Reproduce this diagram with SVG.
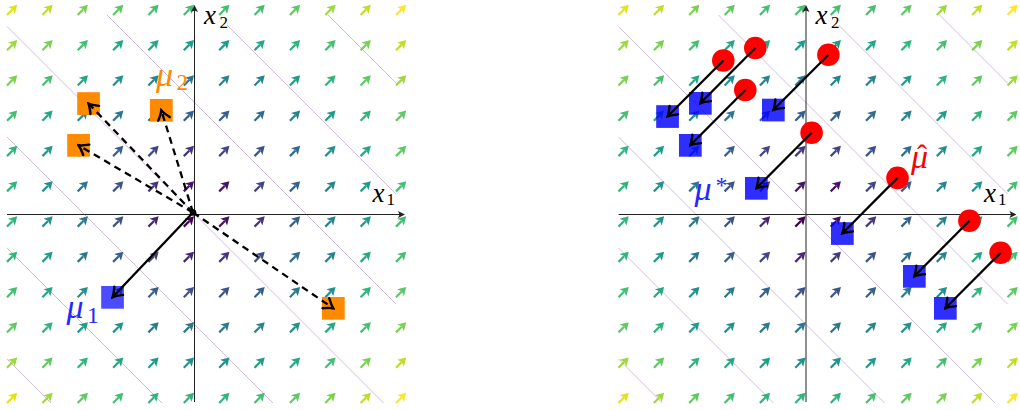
<svg xmlns="http://www.w3.org/2000/svg" width="1020" height="410" viewBox="0 0 1020 410">
<style>
.k0{color:#440154}.k1{color:#471365}.k2{color:#482475}.k3{color:#463480}.k4{color:#414487}.k5{color:#3b528b}.k6{color:#355f8d}.k7{color:#2f6c8e}.k8{color:#2a788e}.k9{color:#25848e}.k10{color:#21918c}.k11{color:#1e9c89}.k12{color:#22a884}.k13{color:#2fb47c}.k14{color:#44bf70}.k15{color:#5ec962}.k16{color:#7ad151}.k17{color:#9bd93c}.k18{color:#bddf26}.k19{color:#dfe318}.k20{color:#fde725}
.ct{stroke:#d2bddb;stroke-width:1;fill:none}
.ax{stroke:#222;stroke-width:1;fill:none}
.axh{fill:#222}
.up{font-style:normal}
.con{fill:none;stroke:#000;stroke-width:2.3}
.dash{stroke-dasharray:7 5}
</style>
<defs>
<marker id="hd" viewBox="-11 -8 13 16" refX="0" refY="0" markerWidth="13" markerHeight="16" markerUnits="userSpaceOnUse" orient="auto"><path d="M-9 -6Q-3.5 -1.5 0 0Q-3.5 1.5 -9 6" fill="none" stroke="#000" stroke-width="2.4" stroke-linecap="round"/></marker>
<g id="a" transform="rotate(-45)"><path d="M0 0H8" stroke="currentColor" stroke-width="2.2"/><path d="M14.5 0L6.3 -4.8L8.2 0L6.3 4.8Z" fill="currentColor"/></g>
<g id="bg">
<g class="ct">
<path d="M328 15L396 83"/><path d="M227 25L396 194"/><path d="M107 15L396 304"/><path d="M7 26.5L383.5 403"/><path d="M7 137L273 403"/><path d="M7 248L162 403"/><path d="M7 359L51 403"/>
</g>
<g transform="translate(0,15)"><use href="#a" x="7" class="k19"/><use href="#a" x="42.4" class="k18"/><use href="#a" x="77.7" class="k16"/><use href="#a" x="113.1" class="k15"/><use href="#a" x="148.4" class="k14"/><use href="#a" x="183.8" class="k14"/><use href="#a" x="219.2" class="k14"/><use href="#a" x="254.5" class="k14"/><use href="#a" x="289.9" class="k15"/><use href="#a" x="325.3" class="k17"/><use href="#a" x="360.6" class="k18"/><use href="#a" x="396" class="k20"/></g>
<g transform="translate(0,50.3)"><use href="#a" x="7" class="k17"/><use href="#a" x="42.4" class="k16"/><use href="#a" x="77.7" class="k14"/><use href="#a" x="113.1" class="k12"/><use href="#a" x="148.4" class="k12"/><use href="#a" x="183.8" class="k11"/><use href="#a" x="219.2" class="k11"/><use href="#a" x="254.5" class="k12"/><use href="#a" x="289.9" class="k13"/><use href="#a" x="325.3" class="k14"/><use href="#a" x="360.6" class="k16"/><use href="#a" x="396" class="k18"/></g>
<g transform="translate(0,85.5)"><use href="#a" x="7" class="k16"/><use href="#a" x="42.4" class="k14"/><use href="#a" x="77.7" class="k12"/><use href="#a" x="113.1" class="k10"/><use href="#a" x="148.4" class="k9"/><use href="#a" x="183.8" class="k8"/><use href="#a" x="219.2" class="k9"/><use href="#a" x="254.5" class="k9"/><use href="#a" x="289.9" class="k11"/><use href="#a" x="325.3" class="k13"/><use href="#a" x="360.6" class="k15"/><use href="#a" x="396" class="k17"/></g>
<g transform="translate(0,120.8)"><use href="#a" x="7" class="k14"/><use href="#a" x="42.4" class="k12"/><use href="#a" x="77.7" class="k10"/><use href="#a" x="113.1" class="k8"/><use href="#a" x="148.4" class="k7"/><use href="#a" x="183.8" class="k6"/><use href="#a" x="219.2" class="k6"/><use href="#a" x="254.5" class="k7"/><use href="#a" x="289.9" class="k9"/><use href="#a" x="325.3" class="k11"/><use href="#a" x="360.6" class="k13"/><use href="#a" x="396" class="k15"/></g>
<g transform="translate(0,156.1)"><use href="#a" x="7" class="k13"/><use href="#a" x="42.4" class="k11"/><use href="#a" x="77.7" class="k9"/><use href="#a" x="113.1" class="k6"/><use href="#a" x="148.4" class="k4"/><use href="#a" x="183.8" class="k3"/><use href="#a" x="219.2" class="k4"/><use href="#a" x="254.5" class="k5"/><use href="#a" x="289.9" class="k7"/><use href="#a" x="325.3" class="k10"/><use href="#a" x="360.6" class="k12"/><use href="#a" x="396" class="k15"/></g>
<g transform="translate(0,191.4)"><use href="#a" x="7" class="k13"/><use href="#a" x="42.4" class="k10"/><use href="#a" x="77.7" class="k8"/><use href="#a" x="113.1" class="k5"/><use href="#a" x="148.4" class="k3"/><use href="#a" x="183.8" class="k1"/><use href="#a" x="219.2" class="k1"/><use href="#a" x="254.5" class="k4"/><use href="#a" x="289.9" class="k6"/><use href="#a" x="325.3" class="k9"/><use href="#a" x="360.6" class="k11"/><use href="#a" x="396" class="k14"/></g>
<g transform="translate(0,226.6)"><use href="#a" x="7" class="k13"/><use href="#a" x="42.4" class="k10"/><use href="#a" x="77.7" class="k8"/><use href="#a" x="113.1" class="k5"/><use href="#a" x="148.4" class="k2"/><use href="#a" x="183.8" class="k0"/><use href="#a" x="219.2" class="k1"/><use href="#a" x="254.5" class="k3"/><use href="#a" x="289.9" class="k6"/><use href="#a" x="325.3" class="k9"/><use href="#a" x="360.6" class="k11"/><use href="#a" x="396" class="k14"/></g>
<g transform="translate(0,261.9)"><use href="#a" x="7" class="k13"/><use href="#a" x="42.4" class="k11"/><use href="#a" x="77.7" class="k8"/><use href="#a" x="113.1" class="k6"/><use href="#a" x="148.4" class="k4"/><use href="#a" x="183.8" class="k2"/><use href="#a" x="219.2" class="k3"/><use href="#a" x="254.5" class="k5"/><use href="#a" x="289.9" class="k7"/><use href="#a" x="325.3" class="k9"/><use href="#a" x="360.6" class="k12"/><use href="#a" x="396" class="k14"/></g>
<g transform="translate(0,297.2)"><use href="#a" x="7" class="k14"/><use href="#a" x="42.4" class="k12"/><use href="#a" x="77.7" class="k10"/><use href="#a" x="113.1" class="k8"/><use href="#a" x="148.4" class="k6"/><use href="#a" x="183.8" class="k5"/><use href="#a" x="219.2" class="k5"/><use href="#a" x="254.5" class="k6"/><use href="#a" x="289.9" class="k8"/><use href="#a" x="325.3" class="k10"/><use href="#a" x="360.6" class="k13"/><use href="#a" x="396" class="k15"/></g>
<g transform="translate(0,332.4)"><use href="#a" x="7" class="k15"/><use href="#a" x="42.4" class="k13"/><use href="#a" x="77.7" class="k11"/><use href="#a" x="113.1" class="k10"/><use href="#a" x="148.4" class="k8"/><use href="#a" x="183.8" class="k8"/><use href="#a" x="219.2" class="k8"/><use href="#a" x="254.5" class="k9"/><use href="#a" x="289.9" class="k10"/><use href="#a" x="325.3" class="k12"/><use href="#a" x="360.6" class="k14"/><use href="#a" x="396" class="k16"/></g>
<g transform="translate(0,367.7)"><use href="#a" x="7" class="k17"/><use href="#a" x="42.4" class="k15"/><use href="#a" x="77.7" class="k13"/><use href="#a" x="113.1" class="k12"/><use href="#a" x="148.4" class="k11"/><use href="#a" x="183.8" class="k10"/><use href="#a" x="219.2" class="k10"/><use href="#a" x="254.5" class="k11"/><use href="#a" x="289.9" class="k12"/><use href="#a" x="325.3" class="k14"/><use href="#a" x="360.6" class="k16"/><use href="#a" x="396" class="k18"/></g>
<g transform="translate(0,403)"><use href="#a" x="7" class="k19"/><use href="#a" x="42.4" class="k17"/><use href="#a" x="77.7" class="k15"/><use href="#a" x="113.1" class="k14"/><use href="#a" x="148.4" class="k13"/><use href="#a" x="183.8" class="k13"/><use href="#a" x="219.2" class="k13"/><use href="#a" x="254.5" class="k14"/><use href="#a" x="289.9" class="k15"/><use href="#a" x="325.3" class="k16"/><use href="#a" x="360.6" class="k18"/><use href="#a" x="396" class="k20"/></g>
<path class="ax" d="M7 214.5H400M194.5 402V10"/>
<path class="axh" d="M405 214.5L398 211L399.5 214.5L398 218ZM194.5 5L191 12L194.5 10.5L198 12Z"/>
</g>
</defs>

<g id="panel-left">
<use href="#bg"/>
<g id="axis-labels-left" font-family="'Liberation Serif', 'DejaVu Serif', serif" font-style="italic" font-size="27" fill="#000">
<text x="204" y="24">x<tspan class="up" font-size="17" x="219.5" y="28">2</tspan></text>
<text x="372.5" y="202">x<tspan class="up" font-size="17" x="386.5" y="205">1</tspan></text>
</g>
<g id="node-o1"><rect x="77.2" y="92.2" width="22.7" height="22.7" fill="#ff8a00"/></g>
<g id="node-o2"><rect x="67.2" y="134" width="22.7" height="22.7" fill="#ff8a00"/></g>
<g id="node-o3"><rect x="150" y="99" width="22.7" height="22.7" fill="#ff8a00"/>
<text font-family="'Liberation Serif', 'DejaVu Serif', serif" font-style="italic" x="156" y="86" font-size="34" fill="#ff8a00">μ<tspan class="up" font-size="23" x="176.5" y="90">2</tspan></text></g>
<g id="node-o4"><rect x="322" y="297" width="22.7" height="22.7" fill="#ff8a00"/></g>
<g id="node-mu1"><rect x="101.2" y="286" width="22.7" height="22.7" fill="#0000ff" fill-opacity="0.7"/>
<text font-family="'Liberation Serif', 'DejaVu Serif', serif" font-style="italic" x="66.5" y="318" font-size="34" fill="#2626ff">μ<tspan class="up" font-size="24" x="87" y="323">1</tspan></text></g>
</g>

<g id="panel-right">
<use href="#bg" x="611.5"/>
<g id="axis-labels-right" font-family="'Liberation Serif', 'DejaVu Serif', serif" font-style="italic" font-size="27" fill="#000">
<text x="815.5" y="24">x<tspan class="up" font-size="17" x="831" y="28">2</tspan></text>
<text x="984" y="202">x<tspan class="up" font-size="17" x="998" y="205">1</tspan></text>
</g>
<g id="node-s1"><rect x="656.2" y="105.2" width="22.7" height="22.7" fill="#0000ff" fill-opacity="0.82"/></g>
<g id="node-s2"><rect x="689" y="92" width="22.7" height="22.7" fill="#0000ff" fill-opacity="0.82"/></g>
<g id="node-s3"><rect x="679" y="134" width="22.7" height="22.7" fill="#0000ff" fill-opacity="0.82"/></g>
<g id="node-s4"><rect x="762" y="98.7" width="22.7" height="22.7" fill="#0000ff" fill-opacity="0.82"/></g>
<g id="node-s5"><rect x="745" y="177" width="22.7" height="22.7" fill="#0000ff" fill-opacity="0.82"/>
<text font-family="'Liberation Serif', 'DejaVu Serif', serif" font-style="italic" x="694.5" y="200" font-size="34" fill="#2626ff">μ<tspan class="up" font-size="24" x="715.5" y="193">*</tspan></text></g>
<g id="node-s6"><rect x="831" y="222.2" width="22.7" height="22.7" fill="#0000ff" fill-opacity="0.82"/></g>
<g id="node-s7"><rect x="903" y="265" width="22.7" height="22.7" fill="#0000ff" fill-opacity="0.82"/></g>
<g id="node-s8"><rect x="934" y="297" width="22.7" height="22.7" fill="#0000ff" fill-opacity="0.82"/></g>
<g id="node-c1"><circle cx="723.3" cy="60.5" r="11.3" fill="#f00"/></g>
<g id="node-c2"><circle cx="755.3" cy="48" r="11.3" fill="#f00"/></g>
<g id="node-c3"><circle cx="745.3" cy="90" r="11.3" fill="#f00"/></g>
<g id="node-c4"><circle cx="828.4" cy="54.8" r="11.3" fill="#f00"/></g>
<g id="node-c5"><circle cx="811.6" cy="132.8" r="11.3" fill="#f00"/></g>
<g id="node-c6"><circle cx="897.5" cy="177.9" r="11.3" fill="#f00"/>
<text font-family="'Liberation Serif', 'DejaVu Serif', serif" font-style="italic" x="911" y="168" font-size="34" fill="#f00">μ<tspan class="up" font-size="30" x="917" y="165">ˆ</tspan></text></g>
<g id="node-c7"><circle cx="969.4" cy="220.8" r="11.3" fill="#f00"/></g>
<g id="node-c8"><circle cx="1000.6" cy="252.8" r="11.3" fill="#f00"/></g>
</g>

<g id="connectors" class="con" marker-end="url(#hd)">
<path class="dash" d="M193 212.5L88.5 103.5"/>
<path class="dash" d="M193 212.5L78.5 145.3"/>
<path class="dash" d="M193 212.5L161.3 110.3"/>
<path class="dash" d="M193 212.5L333.3 308.3"/>
<path d="M193 212.5L112.5 297.3"/>
<path d="M723.3 60.5L667.5 116.5"/>
<path d="M755.3 48L700.3 103.3"/>
<path d="M745.3 90L690.3 145.3"/>
<path d="M828.4 54.8L773.3 110"/>
<path d="M811.6 132.8L756.3 188.3"/>
<path d="M897.5 177.9L842.3 233.5"/>
<path d="M969.4 220.8L914.3 276.3"/>
<path d="M1000.6 252.8L945.3 308.3"/>
</g>
<g id="origin"><circle cx="193" cy="212.5" r="3.3" fill="#000"/></g>
</svg>
